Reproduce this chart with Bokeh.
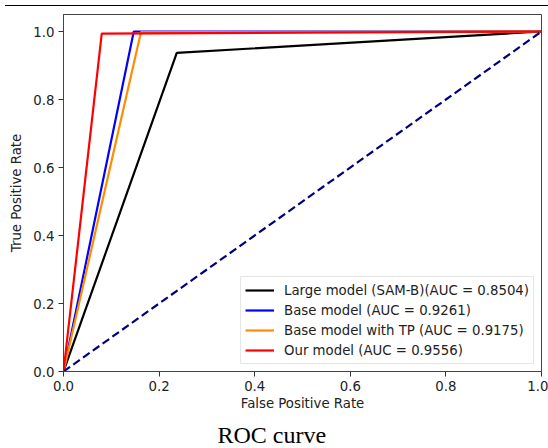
from bokeh.plotting import figure
from bokeh.models import Range1d, FixedTicker, Title, Legend, LegendItem, Div
from bokeh.layouts import column
from bokeh.embed import file_html
from bokeh.resources import INLINE

# Data
fpr_large = [0.0, 0.237, 1.0]
tpr_large = [0.0, 0.937, 1.0]
fpr_base = [0.0, 0.147, 1.0]
tpr_base = [0.0, 1.0, 1.0]
fpr_base_tp = [0.0, 0.162, 1.0]
tpr_base_tp = [0.0, 0.998, 1.0]
fpr_ours = [0.0, 0.08, 1.0]
tpr_ours = [0.0, 0.994, 1.0]
diag_x = [0.0, 1.0]
diag_y = [0.0, 1.0]
labels = [
    "Large model (SAM-B)(AUC = 0.8504)",
    "Base model (AUC = 0.9261)",
    "Base model with TP (AUC = 0.9175)",
    "Our model (AUC = 0.9556)",
]
ticks = [0.0, 0.2, 0.4, 0.6, 0.8, 1.0]

FONT = "DejaVu Sans"
FS = "13.3px"

p = figure(width=548, height=441, output_backend="svg", toolbar_location=None,
           x_range=Range1d(0, 1.0), y_range=Range1d(0, 1.05),
           min_border_left=63, min_border_right=7, min_border_top=2, min_border_bottom=77)
p.background_fill_color = "white"
p.border_fill_color = "white"
p.outline_line_color = "#444444"
p.outline_line_width = 1
p.xgrid.visible = False
p.ygrid.visible = False

r1 = p.line(fpr_large, tpr_large, line_color="black", line_width=2.2)
r2 = p.line(fpr_base, tpr_base, line_color="blue", line_width=2.2)
r3 = p.line(fpr_base_tp, tpr_base_tp, line_color="darkorange", line_width=2.2)
r4 = p.line(fpr_ours, tpr_ours, line_color="red", line_width=2.2)
p.line(diag_x, diag_y, line_color="navy", line_width=2.2, line_dash="8 4")

for ax in (p.xaxis[0], p.yaxis[0]):
    ax.ticker = FixedTicker(ticks=ticks)
    ax.minor_tick_line_color = None
    ax.major_tick_in = 0
    ax.major_tick_out = 5
    ax.major_tick_line_color = "#333333"
    ax.axis_line_color = "#444444"
    ax.major_label_text_font = FONT
    ax.major_label_text_font_size = FS
    ax.major_label_text_color = "#222222"
    ax.axis_label_text_font = FONT
    ax.axis_label_text_font_size = FS
    ax.axis_label_text_font_style = "normal"
    ax.axis_label_text_color = "#222222"
    ax.major_label_standoff = 4

p.xaxis[0].major_label_overrides = {t: f"{t:.1f}" for t in ticks}
p.yaxis[0].major_label_overrides = {t: f"{t:.1f}" for t in ticks}
p.xaxis.axis_label = "False Positive Rate"
p.yaxis.axis_label = "True Positive Rate"
p.xaxis.axis_label_standoff = 2
p.yaxis.axis_label_standoff = 6

legend = Legend(items=[
    LegendItem(label=labels[0], renderers=[r1]),
    LegendItem(label=labels[1], renderers=[r2]),
    LegendItem(label=labels[2], renderers=[r3]),
    LegendItem(label=labels[3], renderers=[r4]),
], location="bottom_right")
legend.margin = 7
legend.padding = 4
legend.spacing = 2
legend.glyph_width = 29
legend.glyph_height = 18
legend.label_height = 18
legend.label_standoff = 10
legend.label_text_font = FONT
legend.label_text_font_size = FS
legend.label_text_color = "#222222"
legend.border_line_color = "#cccccc"
legend.border_line_width = 1
legend.background_fill_alpha = 0.9
p.add_layout(legend)

cap = Title(text="ROC curve", align="left", offset=154, standoff=12,
            text_font="Liberation Serif", text_font_size="24px",
            text_font_style="normal", text_color="black")
p.add_layout(cap, "below")

rule = Div(text="", width=548, height=2,
           styles={"border-top": "1.5px solid black", "width": "548px"})

layout = column(rule, p, spacing=0)

open("out.html", "w").write(file_html(layout, INLINE))
